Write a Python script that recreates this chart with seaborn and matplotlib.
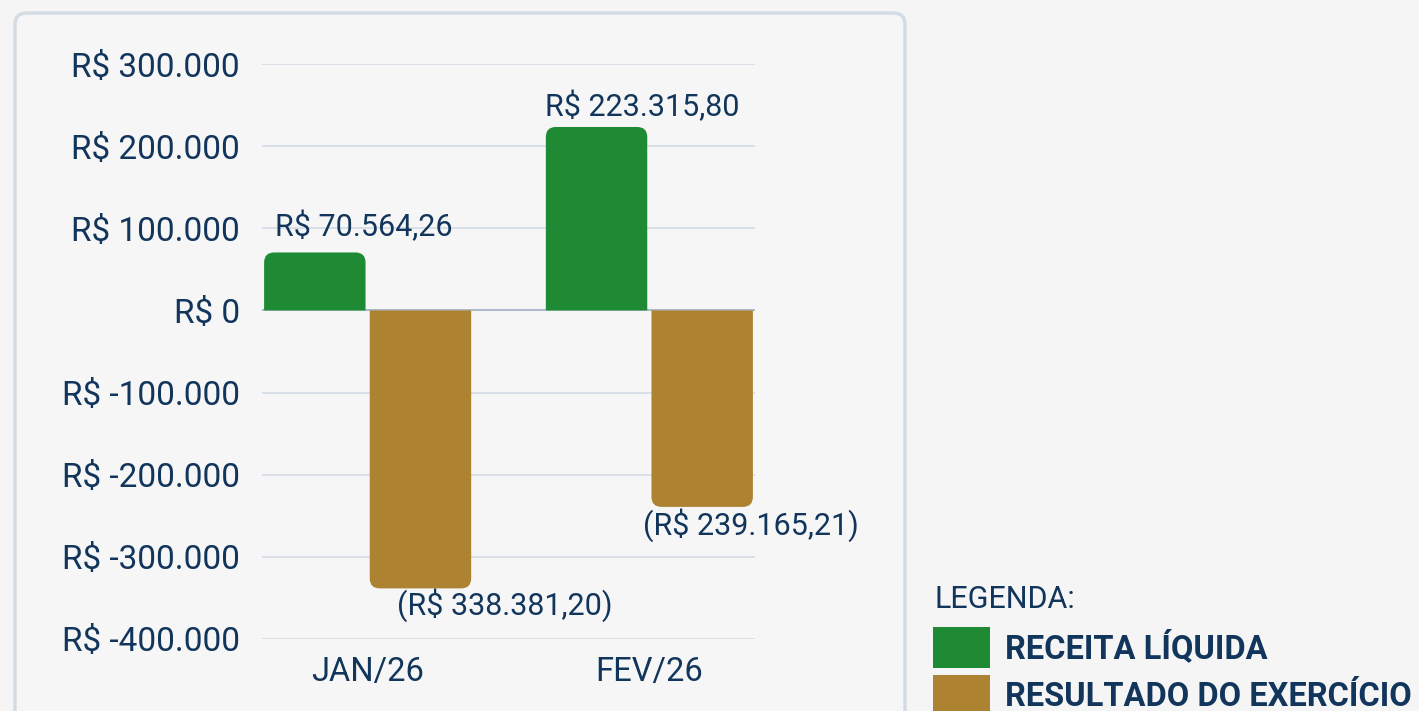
import numpy as np
import pandas as pd
import matplotlib.pyplot as plt
import seaborn as sns
from matplotlib.patches import FancyBboxPatch, PathPatch, Patch
from matplotlib.path import Path
from matplotlib.ticker import FuncFormatter

meses = ["JAN/26", "FEV/26"]
series = ["RECEITA LÍQUIDA", "RESULTADO DO EXERCÍCIO"]
receita = [70564.26, 223315.80]
resultado = [-338381.20, -239165.21]
y_ticks = [300000, 200000, 100000, 0, -100000, -200000, -300000, -400000]

NAVY = "#12355b"
GREEN = "#1e8a34"
GOLD = "#ad8331"
BG = "#f5f5f5"


def fmt_tick(v, pos=None):
    s = f"{abs(v):,.0f}".replace(",", ".")
    return f"R$ -{s}" if v < 0 else f"R$ {s}"


def fmt_label(v):
    s = f"{abs(v):,.2f}".replace(",", "X").replace(".", ",").replace("X", ".")
    return f"(R$ {s})" if v < 0 else f"R$ {s}"


def rounded_bar(x, w, h, rx, ry):
    # barra com cantos arredondados so na ponta (longe do zero)
    s = 1 if h >= 0 else -1
    ry = min(ry, abs(h) / 2) * s
    verts = [(x, 0), (x, h - ry), (x, h), (x + rx, h), (x + w - rx, h),
             (x + w, h), (x + w, h - ry), (x + w, 0), (x, 0)]
    codes = [Path.MOVETO, Path.LINETO, Path.CURVE3, Path.CURVE3, Path.LINETO,
             Path.CURVE3, Path.CURVE3, Path.LINETO, Path.CLOSEPOLY]
    return Path(verts, codes)


def main():
    sns.set_theme(style="white")
    plt.rcParams["font.family"] = ["Roboto", "DejaVu Sans"]

    df = pd.DataFrame({
        "mes": meses * 2,
        "serie": [series[0]] * 2 + [series[1]] * 2,
        "valor": receita + resultado,
    })

    fig = plt.figure(figsize=(14.19, 7.11), dpi=100, facecolor=BG)

    # painel de fundo com borda arredondada
    panel = FancyBboxPatch((15 / 1419, -0.05), 890 / 1419, 1.05 - 13 / 711,
                           boxstyle="round,pad=0,rounding_size=0.008",
                           mutation_aspect=1419 / 711,
                           transform=fig.transFigure, facecolor="#f6f6f6",
                           edgecolor="#d3dbe4", lw=2.4, zorder=0)
    fig.add_artist(panel)

    ax = fig.add_axes([262 / 1419, 1 - 639 / 711, 493 / 1419, 575 / 711])
    ax.set_facecolor("none")

    sns.barplot(data=df, x="mes", y="valor", hue="serie", order=meses,
                hue_order=series, palette=[GREEN, GOLD], width=0.75, gap=0.04,
                saturation=1, legend=False, ax=ax, zorder=3)

    ax.set_xlim(-0.375, 1.375)
    ax.set_ylim(-400000, 300000)
    ax.set_yticks(y_ticks)
    ax.yaxis.set_major_formatter(FuncFormatter(fmt_tick))
    ax.set_xlabel("")
    ax.set_ylabel("")
    for sp in ax.spines.values():
        sp.set_visible(False)
    ax.grid(axis="y", color="#cfd8e3", lw=1.1, zorder=0)
    ax.axhline(0, color="#9fb0c3", lw=1.1, zorder=2)
    ax.tick_params(axis="y", length=0, pad=16, labelsize=24, labelcolor=NAVY)
    ax.tick_params(axis="x", length=0, pad=12, labelsize=23.5, labelcolor=NAVY)

    fig.canvas.draw()
    bbox = ax.get_window_extent()
    px_x = bbox.width / 1.75
    px_y = bbox.height / 700000
    rx = 10 / px_x
    ry = 10 / px_y

    bars = sorted(ax.patches, key=lambda p: p.get_x())
    valores = [receita[0], resultado[0], receita[1], resultado[1]]
    dx = [49, 84, 46, 49]
    dy = [26, -17, 21, -18]
    for bar, v, ox, oy in zip(bars, valores, dx, dy):
        x, w, h = bar.get_x(), bar.get_width(), bar.get_height()
        color = bar.get_facecolor()
        bar.remove()
        ax.add_patch(PathPatch(rounded_bar(x, w, h, rx, ry), facecolor=color,
                               edgecolor="none", zorder=3))
        ax.annotate(fmt_label(v), xy=(x + w / 2, v), xytext=(ox, oy),
                    textcoords="offset pixels", ha="center", va="center",
                    fontsize=22, color=NAVY, zorder=5)

    # legenda
    fig.text(935 / 1419, 1 - 599 / 711, "LEGENDA:", ha="left", va="center",
             fontsize=22, color=NAVY)
    handles = [Patch(facecolor=GREEN, edgecolor="none"),
               Patch(facecolor=GOLD, edgecolor="none")]
    leg = fig.legend(handles, series, loc="upper left",
                     bbox_to_anchor=(920 / 1419, 1 - 614 / 711), frameon=False,
                     prop={"weight": "bold", "size": 23.5},
                     handlelength=1.75, handleheight=1.57,
                     handletextpad=0.45, labelspacing=0.2, borderaxespad=0,
                     borderpad=0.4)
    for t in leg.get_texts():
        t.set_color(NAVY)

    fig.savefig("out.png", dpi=100, facecolor=BG)


if __name__ == "__main__":
    main()
